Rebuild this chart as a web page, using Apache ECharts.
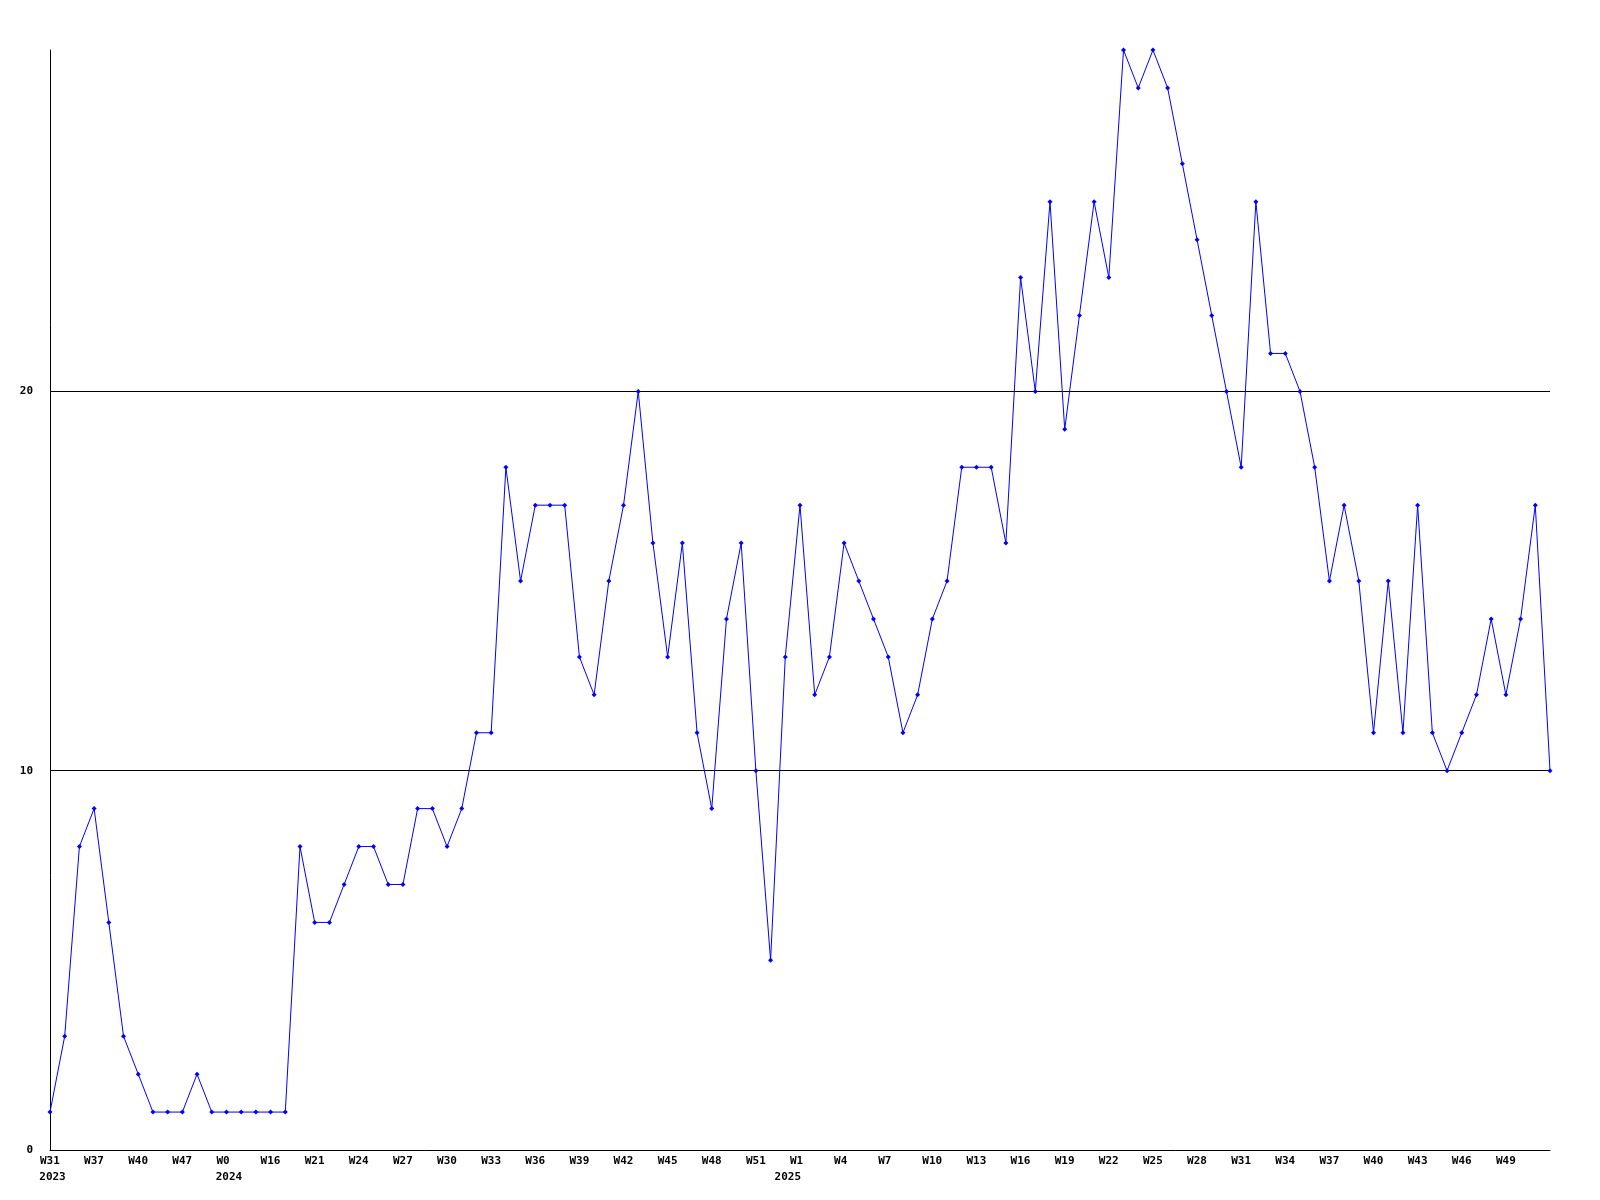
<!DOCTYPE html>
<html>
<head>
<meta charset="utf-8">
<script src="https://cdn.jsdelivr.net/npm/echarts@6/dist/echarts.min.js"></script>
<style>
  html, body { margin: 0; padding: 0; background: #fff; }
  #chart { width: 1600px; height: 1200px; }
</style>
</head>
<body>
<div id="chart"></div>
<script>
// week tick labels, one every 3 points
var tickLabels = [
  'W31', 'W37', 'W40', 'W47',
  'W0', 'W16', 'W21', 'W24', 'W27', 'W30', 'W33', 'W36', 'W39', 'W42', 'W45', 'W48', 'W51',
  'W1', 'W4', 'W7', 'W10', 'W13', 'W16', 'W19', 'W22', 'W25', 'W28', 'W31', 'W34', 'W37', 'W40', 'W43', 'W46', 'W49'
];

// year labels and the point where each year starts
var yearLabels = ['2023', '2024', '2025'];
var yearIndex = [0, 12, 50];

// weekly values
var values = [
  1, 3, 8, 9, 6, 3, 2, 1, 1, 1, 2, 1, 1, 1, 1, 1, 1,
  8, 6, 6, 7, 8, 8, 7, 7, 9, 9, 8, 9, 11, 11,
  18, 15, 17, 17, 17, 13, 12, 15, 17, 20, 16, 13, 16, 11, 9, 14, 16, 10, 5,
  13, 17, 12, 13, 16, 15, 14, 13, 11, 12, 14, 15, 18, 18, 18, 16,
  23, 20, 25, 19, 22, 25, 23, 29, 28, 29, 28, 26, 24, 22, 20, 18, 25, 21, 21, 20, 18,
  15, 17, 15, 11, 15, 11, 17, 11, 10, 11, 12, 14, 12, 14, 17, 10
];

var categories = values.map(function (v, i) { return String(i); });

var font = 'DejaVu Sans Mono';

var myChart = echarts.init(document.getElementById('chart'));
var option = {
  backgroundColor: '#ffffff',
  animation: false,
  grid: {
    left: 50,
    right: 50,
    top: 50,
    bottom: 50,
    containLabel: false
  },
  xAxis: [
    {
      type: 'category',
      boundaryGap: false,
      data: categories,
      axisLine: { show: true, lineStyle: { color: '#000', width: 1 } },
      axisTick: { show: false },
      splitLine: { show: false },
      axisLabel: {
        interval: 2,
        margin: 3,
        formatter: function (value, index) {
          var t = tickLabels[index / 3];
          if (index % 3 !== 0 || !t) return '';
          return '{a|' + t + '}';
        },
        rich: {
          a: {
            width: 20,
            align: 'left',
            fontSize: 11,
            fontWeight: 'bold',
            fontFamily: font,
            color: '#000',
            lineHeight: 16
          }
        }
      }
    },
    {
      // year row under the week labels
      type: 'category',
      position: 'bottom',
      boundaryGap: false,
      data: categories,
      axisLine: { show: false },
      axisTick: { show: false },
      splitLine: { show: false },
      axisLabel: {
        interval: 0,
        margin: 19,
        formatter: function (value, index) {
          var k = yearIndex.indexOf(index);
          return k < 0 ? '' : '{y|' + yearLabels[k] + '}';
        },
        rich: {
          y: {
            padding: [0, 0, 0, 5],
            fontSize: 11,
            fontWeight: 'bold',
            fontFamily: font,
            color: '#000',
            lineHeight: 16
          }
        }
      }
    }
  ],
  yAxis: {
    type: 'value',
    min: 0,
    max: 29,
    interval: 10,
    axisLine: { show: true, lineStyle: { color: '#000', width: 1 } },
    axisTick: { show: false },
    axisLabel: {
      margin: 17,
      showMaxLabel: false,
      fontSize: 11,
      fontWeight: 'bold',
      fontFamily: font,
      color: '#000',
      formatter: function (v) { return v % 10 === 0 ? String(v) : ''; }
    },
    splitLine: {
      show: true,
      showMinLine: false,
      showMaxLine: false,
      lineStyle: { color: '#000', width: 1 }
    }
  },
  series: [{
    type: 'line',
    data: values,
    symbol: 'diamond',
    symbolSize: 5,
    showSymbol: true,
    itemStyle: { color: '#0000ff' },
    lineStyle: { color: '#0000ff', width: 1 }
  }]
};
myChart.setOption(option);
</script>
</body>
</html>
